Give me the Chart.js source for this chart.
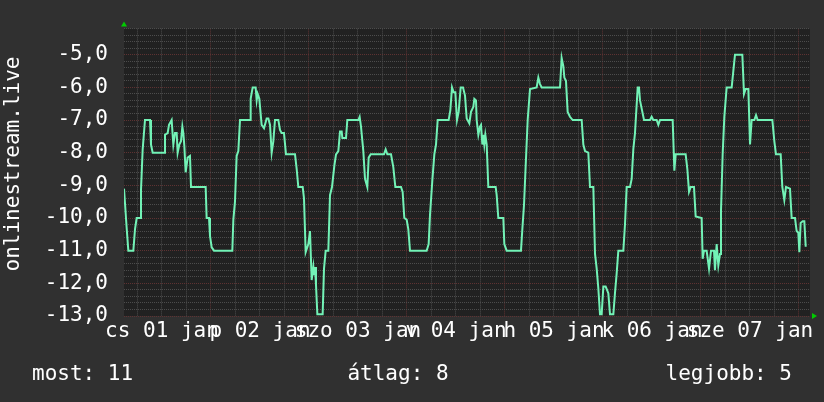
<!DOCTYPE html>
<html><head><meta charset="utf-8">
<script src="https://cdn.jsdelivr.net/npm/chart.js@4.4.0/dist/chart.umd.min.js"></script>
<style>html,body{margin:0;padding:0;background:#303030;overflow:hidden}canvas{display:block}</style>
</head><body>
<canvas id="c" width="824" height="402"></canvas>
<script>
// hours since the start of the graph
const hours = [0,0.65,1.06,2.29,2.69,3.1,3.92,4.16,4.57,5.14,6.37,6.61,7.02,9.8,10.04,10.69,11.02,11.67,12.08,12.49,12.9,13.14,13.55,13.96,14.29,14.53,14.78,15.1,15.59,16.16,16.41,20.0,20.24,20.82,21.06,21.47,22.04,26.53,26.78,27.18,27.59,28.0,28.41,30.86,31.02,31.51,32.24,32.49,32.73,33.14,33.71,34.29,34.94,35.35,35.76,36.16,36.57,36.98,37.8,38.2,38.61,39.18,39.67,41.88,42.29,42.69,43.76,44.08,44.49,45.14,45.55,45.96,46.37,46.53,46.78,47.02,47.35,48.65,48.98,49.39,50.04,50.45,50.94,51.51,51.92,52.49,52.9,53.31,53.47,54.37,54.69,57.39,57.71,58.04,58.61,59.02,59.59,59.92,60.41,63.67,64.08,64.49,65.39,65.96,66.45,67.84,68.24,68.65,69.22,69.63,70.04,74.12,74.61,74.94,75.51,76.0,76.41,76.82,79.51,79.92,80.33,80.73,81.14,81.55,81.96,82.45,83.02,83.51,83.92,84.57,84.98,85.55,85.8,86.2,86.37,86.78,87.18,87.43,87.76,88.0,88.24,88.49,88.82,89.22,91.02,91.27,91.67,92.9,93.14,93.71,97.22,97.55,97.96,98.37,98.86,99.43,101.06,101.47,101.88,102.29,106.78,107.18,107.59,107.84,108.24,108.65,109.22,109.88,112.08,112.49,112.9,113.71,114.12,114.94,115.35,115.76,116.16,116.57,116.98,117.39,117.96,118.61,119.02,119.84,120.24,120.65,121.06,122.29,122.69,123.1,123.92,124.33,124.73,125.14,125.8,126.12,126.37,126.78,127.35,128.82,129.22,129.63,130.45,130.86,131.27,134.37,134.78,135.1,137.55,137.96,138.37,138.78,139.59,140.0,141.47,141.71,142.04,142.69,143.27,143.76,144.49,144.73,145.14,145.55,145.96,146.2,146.61,147.02,147.59,148.82,149.22,149.63,151.43,151.84,152.24,152.9,153.31,153.71,154.37,154.78,155.18,158.78,159.27,159.67,160.82,161.22,161.71,162.12,163.1,163.51,164.33,164.73,165.14,165.39,165.71,166.2,166.61,166.94,167.18];
const ranks = [-9.1,-10.3,-11,-11,-10.35,-10,-10,-9.15,-7.9,-7,-7,-7.75,-8,-8,-7.45,-7.4,-7.15,-7,-7.75,-7.4,-7.4,-8,-7.75,-7.65,-7.2,-7.4,-7.8,-8.6,-8.15,-8.1,-9.05,-9.05,-10,-10,-10.55,-10.9,-11,-11,-10.05,-9.5,-8.1,-7.95,-7,-7,-6.35,-6,-6,-6.4,-6.2,-6.35,-7.15,-7.25,-6.95,-6.95,-7.15,-8,-7.65,-7,-7,-7.3,-7.4,-7.4,-8.05,-8.05,-8.5,-9.05,-9.05,-9.4,-11.05,-10.8,-10.4,-11.9,-11.5,-11.75,-11.5,-12.05,-12.95,-12.95,-11.55,-11,-11,-9.3,-9.05,-8.4,-8.05,-7.95,-7.35,-7.35,-7.55,-7.55,-7,-7,-6.9,-7.2,-7.95,-8.8,-9.05,-8.15,-8.05,-8.05,-7.9,-8.05,-8.05,-8.45,-9.05,-9.05,-9.2,-10,-10.05,-10.35,-11,-11,-10.8,-9.9,-8.85,-8.05,-7.75,-7,-7,-6.7,-6,-6.15,-6.15,-7,-6.75,-6,-6,-6.25,-6.95,-7.1,-6.75,-6.6,-6.35,-6.4,-7,-7.45,-7.2,-7.15,-7.75,-7.45,-7.75,-7.45,-7.75,-9.05,-9.05,-9.3,-10,-10,-10.8,-11,-11,-10.35,-9.6,-8.4,-7,-6.05,-6,-5.7,-5.9,-6,-6,-5.1,-5.35,-5.7,-5.8,-6.75,-6.9,-7,-7,-7.75,-7.95,-8,-9.05,-9.05,-11.1,-11.55,-12.15,-12.95,-12.95,-12.1,-12.1,-12.3,-12.95,-12.95,-12.3,-11.7,-11,-11,-10.2,-9.05,-9.05,-8.8,-7.9,-7.4,-6,-6,-6.4,-6.65,-7,-7,-6.9,-7,-7,-7.15,-7,-7,-8.55,-8.05,-8.05,-8.5,-9.2,-9.05,-9.05,-9.95,-10,-11.25,-11,-11,-11.55,-11,-11,-11.6,-10.8,-11.45,-11.1,-9.8,-8.05,-6.9,-6,-6,-5.5,-5,-5,-6.2,-6.05,-6.05,-7.75,-7,-7,-6.85,-7,-7,-7.65,-8.05,-8.05,-9.05,-9.45,-9.05,-9.1,-10,-10,-10.4,-10.45,-11.05,-10.15,-10.1,-10.1,-10.85,-10.85];

const dayLabels = ['cs 01 jan','p 02 jan','szo 03 jan','v 04 jan','h 05 jan','k 06 jan','sze 07 jan'];
const labelHours = [9.3, 33.3, 57.3, 81.3, 105.3, 129.3, 153.3];   // noon of each day
const midnightHours = [21.3, 45.3, 69.3, 93.3, 117.3, 141.3, 165.3];
const yLabelValues = [-13, -12, -11, -10, -9, -8, -7, -6, -5];
const axisTitle = 'onlinestream.live';
const statLabels = ['most: 11', 'átlag: 8', 'legjobb: 5'];
const xRange = [0, 168];
const yRange = [-13, -4.2];

const FONT = '"DejaVu Sans Mono", "Liberation Mono", monospace';
const FSIZE = 21;
const MINOR = '#4c4c4c';
const MAJOR = '#5e3232';

// grid positions: every 6 hours, majors at midnight
const gridHours = [];
midnightHours.forEach(m => { [m - 18, m - 12, m - 6, m].forEach(h => { if (h >= xRange[0] && h <= xRange[1]) gridHours.push(+h.toFixed(2)); }); });
const isMidnight = v => midnightHours.some(m => Math.abs(m - v) < 1e-6);
const yGrid = [];
for (let i = 0; i <= 44; i++) yGrid.push(+(yRange[0] + i * 0.2).toFixed(2));
const isMajorY = v => yLabelValues.some(m => Math.abs(m - v) < 1e-6);

const bgPlugin = {
  id: 'bg',
  beforeDraw(chart) {
    const { ctx, chartArea: a } = chart;
    ctx.save();
    ctx.fillStyle = '#303030';
    ctx.fillRect(0, 0, chart.width, chart.height);
    ctx.fillStyle = '#212121';
    ctx.fillRect(a.left, a.top, a.right - a.left, a.bottom - a.top);
    ctx.restore();
  }
};
const decoPlugin = {
  id: 'deco',
  afterDraw(chart) {
    const { ctx, chartArea: a } = chart;
    ctx.save();
    ctx.fillStyle = '#00cc00';
    ctx.beginPath();
    ctx.moveTo(a.left - 3, a.top - 2); ctx.lineTo(a.left + 3, a.top - 2); ctx.lineTo(a.left, a.top - 7); ctx.closePath(); ctx.fill();
    ctx.beginPath();
    ctx.moveTo(a.right + 2, a.bottom - 3); ctx.lineTo(a.right + 2, a.bottom + 3); ctx.lineTo(a.right + 7, a.bottom); ctx.closePath(); ctx.fill();
    ctx.fillStyle = '#ffffff';
    ctx.font = FSIZE + 'px ' + FONT;
    ctx.textBaseline = 'middle';
    ctx.save();
    ctx.translate(14, 164);
    ctx.rotate(-Math.PI / 2);
    ctx.textAlign = 'center';
    ctx.fillText(axisTitle, 0, 0);
    ctx.restore();
    ctx.textAlign = 'left'; ctx.fillText(statLabels[0], 32, 375);
    ctx.textAlign = 'center'; ctx.fillText(statLabels[1], 398, 375);
    ctx.textAlign = 'right'; ctx.fillText(statLabels[2], 792, 375);
    ctx.restore();
  }
};

new Chart(document.getElementById('c'), {
  type: 'line',
  data: {
    datasets: [{
      data: hours.map((h, i) => ({ x: h, y: ranks[i] })),
      borderColor: '#72f2b6',
      borderWidth: 2,
      pointRadius: 0,
      tension: 0,
      fill: false
    }]
  },
  options: {
    responsive: false,
    animation: false,
    devicePixelRatio: 1,
    layout: { padding: { left: 0, right: 14, top: 15, bottom: 0 } },
    plugins: { legend: { display: false }, tooltip: { enabled: false } },
    scales: {
      x: {
        type: 'linear', position: 'bottom', min: xRange[0], max: xRange[1],
        afterBuildTicks: s => { s.ticks = gridHours.map(v => ({ value: v })); },
        afterFit: s => { s.height = 0; },
        ticks: { display: false },
        grid: { color: c => isMidnight(c.tick.value) ? MAJOR : MINOR, lineWidth: 1, drawTicks: false, tickLength: 0 },
        border: { display: false, dash: [1, 1] }
      },
      x2: {
        type: 'linear', position: 'bottom', min: xRange[0], max: xRange[1],
        afterBuildTicks: s => { s.ticks = labelHours.map(v => ({ value: v })); },
        afterFit: s => { s.height = 86; },
        ticks: {
          autoSkip: false, maxRotation: 0, minRotation: 0, padding: 3,
          color: '#ffffff', font: { family: FONT, size: FSIZE },
          callback: (v, i) => dayLabels[i]
        },
        grid: { display: false, drawTicks: false, tickLength: 0 },
        border: { display: false }
      },
      y: {
        type: 'linear', min: yRange[0], max: yRange[1],
        afterBuildTicks: s => { s.ticks = yGrid.map(v => ({ value: v })); },
        afterFit: s => { s.width = 124; },
        ticks: {
          autoSkip: false, padding: 16, color: '#ffffff', font: { family: FONT, size: FSIZE },
          callback: v => isMajorY(v) ? v.toFixed(1).replace('.', ',') : ''
        },
        grid: { color: c => isMajorY(c.tick.value) ? MAJOR : MINOR, lineWidth: 1, drawTicks: false, tickLength: 0 },
        border: { display: false, dash: [1, 1] }
      }
    }
  },
  plugins: [bgPlugin, decoPlugin]
});
</script>
</body></html>
